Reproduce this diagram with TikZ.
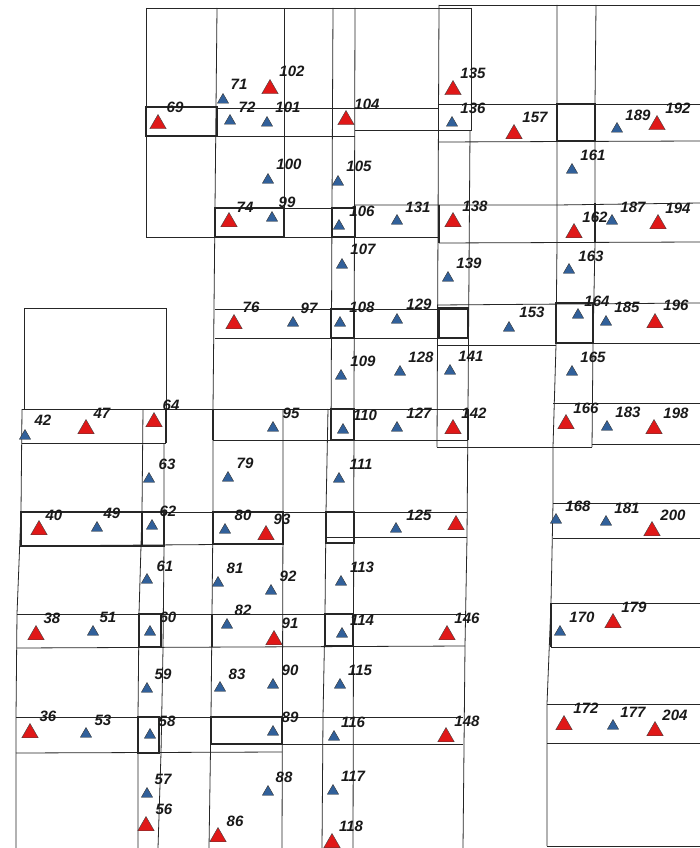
\documentclass[tikz,border=0pt]{standalone}
\usepackage{fontspec}
\setmainfont{Liberation Sans}
\usetikzlibrary{shapes.geometric}
\definecolor{linec}{HTML}{262626}
\definecolor{tred}{HTML}{E01818}
\definecolor{tblue}{HTML}{31609A}
\tikzset{
  ln/.style={draw=linec, line width=0.8pt},
  tk/.style={draw=linec, line width=1.7pt},
  rtri/.style={regular polygon, regular polygon sides=3, fill=tred, draw=black!75, line width=0.4pt, minimum size=19pt, inner sep=0pt},
  btri/.style={regular polygon, regular polygon sides=3, fill=tblue, draw=black!80, line width=0.4pt, minimum size=13pt, inner sep=0pt},
  lab/.style={font=\fontsize{15}{15}\selectfont\bfseries\itshape, inner sep=0pt, text=black!90}
}
\begin{document}
\begin{tikzpicture}[x=1pt,y=-1pt]
\fill[white] (0,0) rectangle (700,848);
\useasboundingbox (0,0) rectangle (700,848);
% vertical lines
\draw[ln] (146,8) -- (146,237);
\draw[ln] (217,8) -- (215,208) -- (213,409) -- (213,512) -- (212,614) -- (211,717) -- (209,848);
\draw[ln] (284,8) -- (284,237);
\draw[ln] (283,409) -- (283,512) -- (282,848);
\draw[ln] (333,8) -- (332,208) -- (331,440);
\draw[ln] (355,8) -- (354,409) -- (353,848);
\draw[ln] (328,409) -- (326,512) -- (325,614) -- (323,717) -- (322,848);
\draw[ln] (439,5) -- (437,447);
\draw[ln] (471,8) -- (471,131);
\draw[ln] (470,131) -- (468,409) -- (467,537) -- (465,646) -- (463,848);
\draw[ln] (557,5) -- (557,243) -- (556,345) -- (553,447) -- (553,503) -- (551,603) -- (547,704) -- (547,846);
\draw[ln] (596,5) -- (595,104) -- (595,243) -- (593,343) -- (592,447);
\draw[ln] (24,308) -- (24,409);
\draw[ln] (166,308) -- (166,443);
\draw[ln] (22,409) -- (21,512) -- (17,614) -- (16,717) -- (16,848);
\draw[ln] (164,443) -- (164,546) -- (163,649) -- (161,753) -- (158,848);
\draw[ln] (143,409) -- (142,512) -- (139,614) -- (138,717) -- (138,848);
% horizontal lines
\draw[ln] (146,8) -- (471,8);
\draw[ln] (439,5) -- (700,5);
\draw[ln] (146,237) -- (439,237);
\draw[ln] (217,108) -- (439,108);
\draw[ln] (217,136) -- (355,136);
\draw[ln] (355,130) -- (471,130);
\draw[ln] (439,104) -- (700,104);
\draw[ln] (439,142) -- (700,141);
\draw[ln] (284,208) -- (355,208);
\draw[ln] (355,205) -- (557,205) -- (700,203);
\draw[ln] (439,243) -- (700,242);
\draw[ln] (215,309) -- (468,309);
\draw[ln] (215,338) -- (468,338);
\draw[ln] (437,305) -- (700,303);
\draw[ln] (437,345) -- (556,345);
\draw[ln] (556,343) -- (700,343);
\draw[ln] (24,308) -- (166,308);
\draw[ln] (22,409) -- (468,409);
\draw[ln] (553,403) -- (700,403);
\draw[ln] (22,443) -- (166,443);
\draw[ln] (213,440) -- (468,440);
\draw[ln] (437,447) -- (592,447);
\draw[ln] (592,444) -- (700,444);
\draw[ln] (553,503) -- (700,503);
\draw[ln] (553,538) -- (700,538);
\draw[ln] (21,512) -- (467,512);
\draw[ln] (21,546) -- (283,544);
\draw[ln] (326,537) -- (467,537);
\draw[ln] (551,603) -- (700,603);
\draw[ln] (551,647) -- (700,647);
\draw[ln] (17,614) -- (465,614);
\draw[ln] (17,648) -- (465,646);
\draw[ln] (547,704) -- (700,704);
\draw[ln] (547,743) -- (700,743);
\draw[ln] (16,717) -- (463,717);
\draw[ln] (211,744) -- (463,744);
\draw[ln] (16,753) -- (282,752);
\draw[ln] (547,846) -- (700,846);
% thick boxes
\draw[tk] (146,107) rectangle (217,136);
\draw[tk] (217,108) -- (217,136);
\draw[tk] (215,208) rectangle (284,237);
\draw[tk] (332,208) rectangle (355,237);
\draw[tk] (439,205) -- (439,243);
\draw[tk] (557,104) rectangle (595,141);
\draw[tk] (595,203) -- (595,243);
\draw[tk] (331,309) rectangle (354,338);
\draw[tk] (439,308) rectangle (468,338);
\draw[tk] (556,303) rectangle (593,343);
\draw[tk] (166,409) -- (166,443);
\draw[tk] (213,409) -- (213,440);
\draw[tk] (331,409) rectangle (354,440);
\draw[tk] (468,409) -- (468,440);
\draw[tk] (21,512) rectangle (142,546);
\draw[tk] (142,512) rectangle (164,546);
\draw[tk] (213,512) rectangle (283,544);
\draw[tk] (326,512) rectangle (354,543);
\draw[tk] (139,614) rectangle (161,647);
\draw[tk] (212,614) -- (212,647);
\draw[tk] (325,614) rectangle (353,646);
\draw[tk] (138,717) rectangle (159,753);
\draw[tk] (211,717) rectangle (282,744);
\draw[tk] (551,603) -- (551,647);
% red triangles
\foreach \n/\x/\y in {69/158/124, 102/270/89, 104/346/120, 135/453/90, 157/514/134, 192/657/125,
  74/229/222, 138/453/222, 162/574/233, 194/658/224, 76/234/324, 196/655/323,
  64/154/422, 47/86/429, 142/453/429, 166/566/424, 198/654/429, 40/39/530, 93/266/535,
  u125/456/525, 200/652/531, 38/36/635, 91/274/640, 146/447/635, 179/613/623,
  36/30/733, 148/446/737, 172/564/725, 204/655/731, 56/146/826, 86/218/837, 118/332/843}
  \node[rtri] (t\n) at (\x,\y) {};
% blue triangles
\foreach \n/\x/\y in {71/223/100, 72/230/121, 101/267/123, 136/452/123, 189/617/129,
  100/268/180, 105/338/182, 161/572/170, 99/272/218, 106/339/226, 131/397/221, 187/612/221,
  107/342/265, 139/448/278, 163/569/270, 97/293/323, 108/340/323, 129/397/320, 153/509/328,
  164/578/315, 185/606/322, 109/341/376, 128/400/372, 141/450/371, 165/572/372,
  42/25/436, 95/273/428, 110/343/430, 127/397/428, 183/607/427, 63/149/479, 79/228/478,
  111/339/479, 49/97/528, 62/152/526, 80/225/530, 125/396/529, 168/556/520, 181/606/522,
  61/147/580, 81/218/583, 92/271/591, 113/341/582, 51/93/632, 60/150/632, 82/227/625,
  114/342/634, 170/560/632, 59/147/689, 83/220/688, 90/273/685, 115/340/685,
  53/86/734, 58/150/735, 89/273/732, 116/334/737, 177/613/726, 57/147/794, 88/268/792, 117/333/791}
  \node[btri] (t\n) at (\x,\y) {};
% labels
\foreach \n/\x/\y in {69/175/107, 71/239/84, 102/292/71, 72/247/107, 101/288/107, 104/367/104,
  135/473/73, 136/473/108, 157/535/117, 189/638/115, 192/678/108, 100/289/164, 105/359/166,
  161/593/155, 74/245/207, 99/287/202, 106/362/211, 131/418/207, 138/475/206, 162/595/217,
  187/633/207, 194/678/208, 107/363/249, 139/469/263, 163/591/256, 76/251/307, 97/309/308,
  108/362/307, 129/419/304, 153/532/312, 164/597/301, 185/627/307, 196/676/305, 109/363/361,
  128/421/357, 141/471/356, 165/593/357, 42/43/420, 47/102/413, 64/171/405, 95/291/413,
  110/365/415, 127/419/413, 142/474/413, 166/586/408, 183/628/412, 198/676/413, 63/167/464,
  79/245/463, 111/361/464, 40/54/515, 49/112/513, 62/168/511, 80/243/515, 93/282/519,
  125/419/515, 168/578/506, 181/627/508, 200/673/515, 61/165/566, 81/235/568, 92/288/576,
  113/362/567, 38/52/618, 51/108/617, 60/168/617, 82/243/610, 91/290/623, 114/362/620,
  146/467/618, 170/582/617, 179/634/607, 59/163/674, 83/237/674, 90/290/670, 115/360/670,
  36/48/716, 53/103/720, 58/167/721, 89/290/717, 116/353/722, 148/467/721, 172/586/708,
  177/633/712, 204/675/715, 57/163/779, 88/284/777, 117/353/776, 56/164/809, 86/235/821, 118/351/826}
  \node[lab] (l\n) at (\x,\y) {\n};
\end{tikzpicture}
\end{document}
